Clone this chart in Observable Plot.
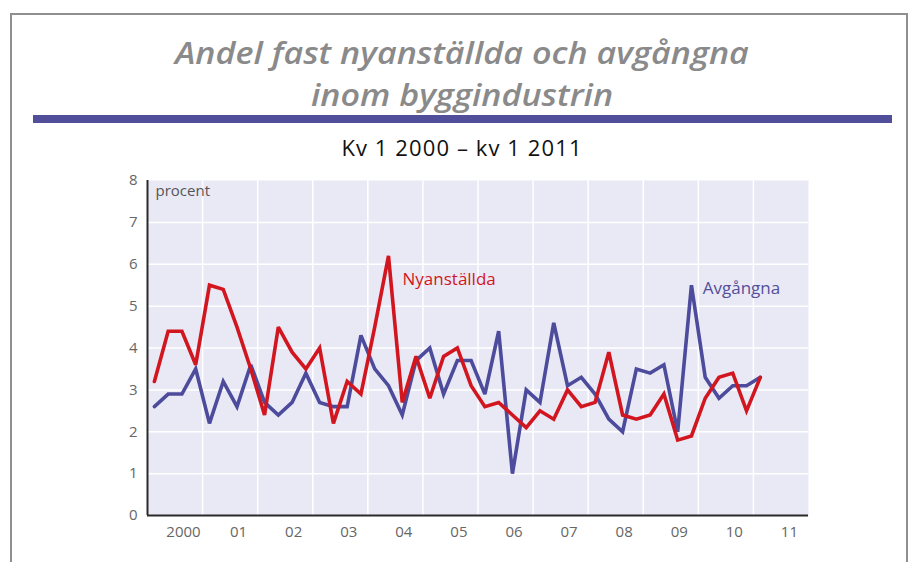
<!DOCTYPE html>
<html>
<head>
<meta charset="utf-8">
<script src="https://cdn.jsdelivr.net/npm/d3@7"></script>
<script src="https://cdn.jsdelivr.net/npm/@observablehq/plot@0.6"></script>
<style>
  html, body { margin: 0; padding: 0; background: #fff; }
  #page { position: relative; width: 914px; height: 562px; overflow: hidden; font-family: "Open Sans", sans-serif; }
  #frame { position: absolute; left: 10px; top: 13px; width: 898px; height: 600px; border: 2px solid #8f8f8f; box-sizing: border-box; }
  .title { position: absolute; left: 5px; width: 914px; height: 42px; text-align: center; font-style: italic; font-weight: 600; font-size: 31px; line-height: 42px; color: #8a8a8a; transform: scaleX(1.1); transform-origin: 457px 0; }
  #t1 { top: 31px; }
  #t2 { top: 73px; }
  #bar { position: absolute; left: 33px; width: 859px; top: 115px; height: 8px; background: #524f9a; }
  #subtitle { position: absolute; left: 5px; width: 914px; top: 132px; text-align: center; font-size: 22px; letter-spacing: 1.1px; color: #111; }
  #chart { position: absolute; left: 0; top: 170px; }
</style>
</head>
<body>
<div id="page">
  <div id="frame"></div>
  <div class="title" id="t1">Andel fast nyanställda och avgångna</div>
  <div class="title" id="t2">inom byggindustrin</div>
  <div id="bar"></div>
  <div id="subtitle">Kv 1 2000 – kv 1 2011</div>
  <div id="chart"></div>
</div>
<script>
// Quarterly data, Q1 2000 – Q1 2011 (percent)
const startYear = 2000;
const nyanstallda = [
  3.2, 4.4, 4.4, 3.6,   // 2000
  5.5, 5.4, 4.5, 3.5,   // 2001
  2.4, 4.5, 3.9, 3.5,   // 2002
  4.0, 2.2, 3.2, 2.9,   // 2003
  4.5, 6.2, 2.7, 3.8,   // 2004
  2.8, 3.8, 4.0, 3.1,   // 2005
  2.6, 2.7, 2.4, 2.1,   // 2006
  2.5, 2.3, 3.0, 2.6,   // 2007
  2.7, 3.9, 2.4, 2.3,   // 2008
  2.4, 2.9, 1.8, 1.9,   // 2009
  2.8, 3.3, 3.4, 2.5,   // 2010
  3.3                   // 2011
];
const avgangna = [
  2.6, 2.9, 2.9, 3.5,
  2.2, 3.2, 2.6, 3.6,
  2.7, 2.4, 2.7, 3.4,
  2.7, 2.6, 2.6, 4.3,
  3.5, 3.1, 2.4, 3.7,
  4.0, 2.9, 3.7, 3.7,
  2.9, 4.4, 1.0, 3.0,
  2.7, 4.6, 3.1, 3.3,
  2.9, 2.3, 2.0, 3.5,
  3.4, 3.6, 2.0, 5.5,
  3.3, 2.8, 3.1, 3.1,
  3.3
];
const yearTicks = [2000, 2001, 2002, 2003, 2004, 2005, 2006, 2007, 2008, 2009, 2010, 2011];
const yearLabels = ["2000", "01", "02", "03", "04", "05", "06", "07", "08", "09", "10", "11"];
const yTicks = [0, 1, 2, 3, 4, 5, 6, 7, 8];
const seriesLabels = [
  {text: "Nyanställda", t: 2004.63, v: 5.63, color: "#d2161f"},
  {text: "Avgångna", t: 2010.08, v: 5.43, color: "#524f9a"}
];

const toRows = (arr) => arr.map((v, i) => ({t: startYear + i / 4 + 0.125, v}));
const red = "#d2161f", blue = "#4d4b9b";

const chart = Plot.plot({
  width: 914,
  height: 392,
  marginLeft: 147,
  marginRight: 106,
  marginTop: 10,
  marginBottom: 47,
  style: {fontFamily: "Open Sans, sans-serif", background: "transparent"},
  x: {domain: [2000, 2012]},
  y: {domain: [0, 8]},
  marks: [
    Plot.frame({fill: "#e9e9f5", stroke: "none"}),
    Plot.ruleX(yearTicks.slice(1), {stroke: "#fff", strokeWidth: 1.5}),
    Plot.ruleY(yTicks.slice(1, -1), {stroke: "#fff", strokeWidth: 1.5}),
    Plot.axisY(yTicks, {tickSize: 0, tickPadding: 10, fontSize: 15, fill: "#666", label: null}),
    Plot.axisX(yearTicks, {tickSize: 0, tickPadding: 11, fontSize: 15, fill: "#666", label: null,
      tickFormat: (d, i) => yearLabels[i], dx: 36}),
    Plot.line(toRows(avgangna), {x: "t", y: "v", stroke: blue, strokeWidth: 3.6, strokeLinejoin: "miter", strokeMiterlimit: 3}),
    Plot.line(toRows(nyanstallda), {x: "t", y: "v", stroke: red, strokeWidth: 3.6, strokeLinejoin: "miter", strokeMiterlimit: 3}),
    Plot.ruleX([2000], {stroke: "#2a2a2a", strokeWidth: 2}),
    Plot.ruleY([0], {stroke: "#2a2a2a", strokeWidth: 2}),
    Plot.text(["procent"], {frameAnchor: "top-left", dx: 8, dy: 5, fontSize: 15, fill: "#555"}),
    Plot.text(seriesLabels, {x: "t", y: "v", text: "text", fill: "color", textAnchor: "start", fontSize: 17})
  ]
});
document.getElementById("chart").appendChild(chart);
</script>
</body>
</html>
